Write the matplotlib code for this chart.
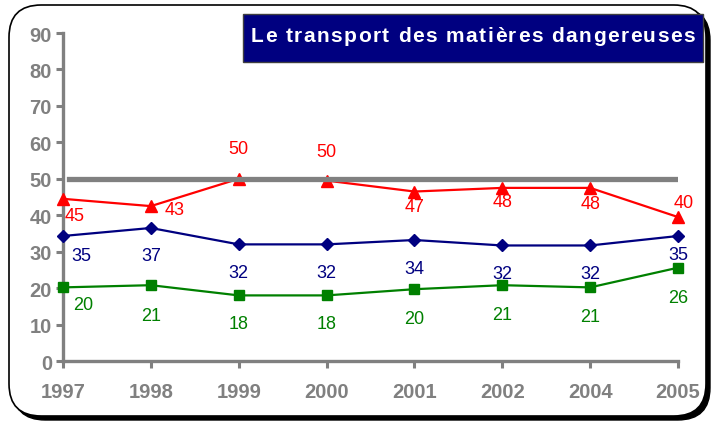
import matplotlib
matplotlib.use("Agg")
import matplotlib.pyplot as plt
from matplotlib.patches import FancyBboxPatch, Rectangle

years = ["1997", "1998", "1999", "2000", "2001", "2002", "2004", "2005"]

# plotted values and the labels shown next to them
red_vals = [44.5, 42.5, 50.0, 49.5, 46.5, 47.5, 47.5, 39.5]
red_labels = ["45", "43", "50", "50", "47", "48", "48", "40"]
navy_vals = [34.3, 36.5, 32.0, 32.0, 33.2, 31.7, 31.7, 34.3]
navy_labels = ["35", "37", "32", "32", "34", "32", "32", "35"]
green_vals = [20.2, 20.8, 18.0, 18.0, 19.7, 20.8, 20.2, 25.6]
green_labels = ["20", "21", "18", "18", "20", "21", "21", "26"]
ref_level = 50

title = "Le transport des matières dangereuses"

# label offsets in pixels (dx, dy), dy positive = up
red_off = [(12, -17), (24, -3), (0, 30), (0, 29), (0, -15), (0, -14), (0, -16), (6, 15)]
navy_off = [(18, -20), (0, -28), (0, -28), (0, -28), (0, -28), (0, -28), (0, -28), (0, -19)]
green_off = [(20, -17), (0, -30), (0, -28), (0, -28), (0, -29), (0, -29), (0, -29), (0, -30)]

plt.rcParams['font.family'] = ['Liberation Sans', 'DejaVu Sans']

W, H = 716, 427
fig = plt.figure(figsize=(W / 100, H / 100), dpi=100)


def fx(px):
    return px / W


def fy(py):
    return 1 - py / H


# rounded frame with shadow
shadow = FancyBboxPatch((fx(13), fy(421)), fx(697), 412 / H,
                        boxstyle="round,pad=0,rounding_size=0.045",
                        transform=fig.transFigure, facecolor="black",
                        edgecolor="black", lw=1, zorder=0, mutation_aspect=W / H)
fig.patches.append(shadow)
frame = FancyBboxPatch((fx(9), fy(417)), fx(697), 411 / H,
                       boxstyle="round,pad=0,rounding_size=0.045",
                       transform=fig.transFigure, facecolor="white",
                       edgecolor="black", lw=1.2, zorder=1, mutation_aspect=W / H)
fig.patches.append(frame)

ax = fig.add_axes([63 / W, 1 - 362 / H, (678 - 63) / W, (362 - 34) / H])
ax.set_facecolor("none")
ax.set_zorder(3)

x = list(range(len(years)))
ax.plot(x, red_vals, color="#FF0000", lw=1.6, marker="^", ms=8, zorder=4, clip_on=False)
ax.plot(x, navy_vals, color="#000080", lw=1.6, marker="D", ms=6, zorder=4, clip_on=False)
ax.plot(x, green_vals, color="#008000", lw=1.6, marker="s", ms=7, zorder=4, clip_on=False)
ax.axhline(ref_level, xmin=0.01, xmax=0.997, color="#808080", lw=3.8, zorder=5)

for vals, labs, offs, col in [(red_vals, red_labels, red_off, "#FF0000"),
                              (navy_vals, navy_labels, navy_off, "#000080"),
                              (green_vals, green_labels, green_off, "#008000")]:
    for i, (v, lab, off) in enumerate(zip(vals, labs, offs)):
        ax.annotate(lab, (i, v), xytext=off, textcoords="offset pixels",
                    ha="center", va="center", fontsize=13, color=col, zorder=6)

ax.set_xlim(0, len(years) - 1)
ax.set_ylim(0, 90)
ax.set_yticks(range(0, 91, 10))
ax.set_xticks(x)
ax.set_xticklabels(years)

for side in ["top", "right"]:
    ax.spines[side].set_visible(False)
for side in ["left", "bottom"]:
    ax.spines[side].set_color("#808080")
    ax.spines[side].set_linewidth(2.4)
ax.tick_params(axis="both", colors="#808080", width=2.2, length=5,
               labelsize=14.5)
ax.tick_params(axis="x", pad=10)
ax.tick_params(axis="y", pad=3)
for t in ax.get_xticklabels() + ax.get_yticklabels():
    t.set_fontweight("bold")

# title box
fig.patches.append(Rectangle((fx(243), fy(63)), fx(703 - 243), 48 / H,
                             transform=fig.transFigure, facecolor="#000080",
                             edgecolor="#404040", lw=1, zorder=2))

# title with letter spacing, drawn char by char
renderer = fig.canvas.get_renderer()
title_size = 15
spacing = 1.5
widths = []
for ch in title:
    t = fig.text(0, 0, ch if ch != " " else "a", fontsize=title_size, fontweight="bold")
    w = t.get_window_extent(renderer).width
    if ch == " ":
        t2 = fig.text(0, 0, "a a", fontsize=title_size, fontweight="bold")
        w = t2.get_window_extent(renderer).width - 2 * w
        t2.remove()
    t.remove()
    widths.append(w)
total = sum(widths) + spacing * (len(title) - 1)
xpos = 473 - total / 2
for ch, w in zip(title, widths):
    if ch != " ":
        fig.text(fx(xpos), fy(37), ch, color="white", fontsize=title_size,
                 fontweight="bold", ha="left", va="center", zorder=3)
    xpos += w + spacing

fig.savefig("out.png", dpi=100)
